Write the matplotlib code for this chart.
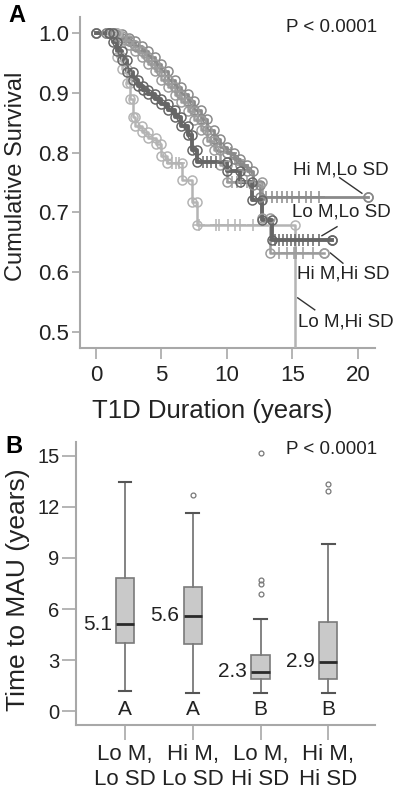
import matplotlib.pyplot as plt
import numpy as np

plt.rcParams['font.family'] = ['Liberation Sans', 'DejaVu Sans']

# ---- panel A: Kaplan-Meier curves ----
hilo_t = [0, 0.8, 1.5, 2.0, 2.5, 3.0, 3.5, 4.0, 4.5, 5.0, 5.5, 6.0, 6.5, 7.0, 7.5,
          8.0, 8.5, 9.0, 9.5, 10.0, 10.5, 11.0, 11.5, 12.0, 12.5, 20.8]
hilo_s = [1.0, 1.0, 0.998, 0.992, 0.986, 0.978, 0.97, 0.96, 0.948, 0.936, 0.922,
          0.91, 0.898, 0.886, 0.872, 0.856, 0.838, 0.822, 0.81, 0.80, 0.79, 0.78,
          0.77, 0.745, 0.726, 0.726]
hilo_cens = [10.3, 10.6, 11.2, 13.0, 13.4, 13.8, 14.2, 14.6, 15.0, 15.5, 16.0, 16.4, 17.0]

lolo_t = [0, 1.0, 1.3, 1.6, 2.0, 2.4, 2.8, 3.2, 3.6, 4.0, 4.5, 5.0, 5.5, 6.0, 6.5,
          7.0, 7.3, 7.7, 10.0, 11.0, 11.9, 12.7, 13.4, 18.0]
lolo_s = [1.0, 1.0, 0.985, 0.97, 0.955, 0.935, 0.922, 0.912, 0.905, 0.898, 0.89,
          0.882, 0.872, 0.86, 0.845, 0.83, 0.805, 0.785, 0.77, 0.75, 0.72, 0.687,
          0.654, 0.654]
lolo_cens = [8.2, 8.5, 8.8, 9.2, 13.7, 14.0, 14.3, 14.6, 14.9, 15.2, 15.5, 15.8, 16.2, 16.6, 17.0]

hihi_t = [0, 1.0, 1.5, 2.0, 2.5, 3.0, 3.5, 4.0, 4.5, 5.0, 5.5, 6.0, 6.5, 7.0, 7.5,
          8.0, 8.5, 9.0, 9.5, 10.0, 12.7, 13.3, 17.4]
hihi_s = [1.0, 1.0, 0.995, 0.988, 0.98, 0.97, 0.96, 0.948, 0.936, 0.922, 0.91,
          0.897, 0.884, 0.87, 0.855, 0.838, 0.82, 0.805, 0.78, 0.75, 0.69, 0.632, 0.632]
hihi_cens = [10.4, 10.8, 11.1, 11.5, 14.0, 14.6, 15.1, 15.3, 15.8, 16.6]

lohi_t = [0, 1.2, 1.6, 2.0, 2.4, 2.6, 2.8, 3.0, 3.5, 4.0, 4.6, 5.0, 5.4, 6.6, 7.3,
          7.7, 15.2]
lohi_s = [1.0, 1.0, 0.96, 0.94, 0.916, 0.89, 0.86, 0.845, 0.835, 0.825, 0.815,
          0.795, 0.783, 0.754, 0.718, 0.679, 0.30]
lohi_cens = [5.8, 6.1, 6.3, 7.9, 9.2, 9.4, 10.1, 10.6, 11.0, 12.0]

km_names = ['Hi M,Lo SD', 'Lo M,Lo SD', 'Hi M,Hi SD', 'Lo M,Hi SD']

# ---- panel B: box plots of time to MAU ----
box_labels = ['Lo M,\nLo SD', 'Hi M,\nLo SD', 'Lo M,\nHi SD', 'Hi M,\nHi SD']
box_med = [5.1, 5.6, 2.3, 2.9]
box_q1 = [4.0, 3.95, 1.88, 1.88]
box_q3 = [7.8, 7.3, 3.3, 5.25]
box_lo = [1.18, 1.05, 1.05, 1.05]
box_hi = [13.45, 11.65, 5.4, 9.8]
box_fliers = [[], [12.7], [15.2, 7.7, 7.5, 6.9], [13.35, 12.95]]
box_letters = ['A', 'A', 'B', 'B']

spine_c = '#a8a8a8'
fig = plt.figure(figsize=(4.0, 7.99), dpi=100)

# ================= A =================
ax = fig.add_axes([0.2, 0.5645, 0.7375, 0.4142])
curves = [
    (hilo_t, hilo_s, hilo_cens, '#8a8a8a', 2.0),
    (hihi_t, hihi_s, hihi_cens, '#9c9c9c', 1.8),
    (lohi_t, lohi_s, lohi_cens, '#b4b4b4', 1.8),
    (lolo_t, lolo_s, lolo_cens, '#666666', 2.8),
]
for t, s, cens, col, lw in curves:
    t = np.array(t)
    s = np.array(s)
    ax.step(t, s, where='post', color=col, lw=lw, zorder=3)
    ax.plot(t, s, 'o', mfc='none', mec=col, ms=6.5, mew=1.1, zorder=4)
    ax.plot(t[1:], s[:-1], 'o', mfc='none', mec=col, ms=6.5, mew=1.1, zorder=4)
    cs = s[np.searchsorted(t, cens, side='right') - 1]
    ax.plot(cens, cs, '+', color=col, ms=8, mew=1.1, zorder=4)

ax.set_xlim(-1.22, 21.3)
ax.set_ylim(0.4732, 1.0268)
ax.set_xticks([0, 5, 10, 15, 20])
ax.set_yticks([0.5, 0.6, 0.7, 0.8, 0.9, 1.0])
ax.set_yticklabels(['0.5', '0.6', '0.7', '0.8', '0.9', '1.0'])
for sp in ['top', 'right']:
    ax.spines[sp].set_visible(False)
for sp in ['left', 'bottom']:
    ax.spines[sp].set_color(spine_c)
    ax.spines[sp].set_linewidth(1.5)
ax.tick_params(axis='y', length=6, width=1.2, color=spine_c, labelsize=16, pad=2,
               labelcolor='#222222')
ax.tick_params(axis='x', length=8, width=1.2, color=spine_c, labelsize=16, pad=4,
               labelcolor='#222222')
ax.set_ylabel('Cumulative Survival', fontsize=17, color='#222222')
ax.yaxis.set_label_coords(-0.178, 0.52)
ax.set_xlabel('T1D Duration (years)', fontsize=18.5, color='#222222')
ax.xaxis.set_label_coords(0.45, -0.155)

lab_pos = [(18.7, 0.771), (18.7, 0.700), (18.9, 0.597), (19.1, 0.517)]
lab_line = [((18.6, 0.758), (20.3, 0.732)), ((18.4, 0.676), (17.25, 0.661)),
            ((17.9, 0.632), (18.85, 0.615)), ((15.4, 0.557), (16.7, 0.537))]
for name, (x, y), ((x0, y0), (x1, y1)) in zip(km_names, lab_pos, lab_line):
    ax.text(x, y, name, fontsize=13.5, ha='center', va='center', color='#222222',
            clip_on=False)
    ax.plot([x0, x1], [y0, y1], color='#333333', lw=1.0, clip_on=False)

fig.text(0.83, 0.966, 'P < 0.0001', fontsize=13.5, ha='center', va='center', color='#222222')
fig.text(0.042, 0.981, 'A', fontsize=17, fontweight='bold', ha='center', va='center')

# ================= B =================
bx = fig.add_axes([0.19, 0.0926, 0.7475, 0.3542])
pos = np.arange(1, 5)
stats = []
for i in range(4):
    stats.append(dict(med=box_med[i], q1=box_q1[i], q3=box_q3[i],
                      whislo=box_lo[i], whishi=box_hi[i], fliers=box_fliers[i]))
bx.bxp(stats, positions=pos, widths=0.27, patch_artist=True, capwidths=0.19,
       boxprops=dict(facecolor='#c9c9c9', edgecolor='#7a7a7a', lw=1.2),
       medianprops=dict(color='#2a2a2a', lw=2.0),
       whiskerprops=dict(color='#7a7a7a', lw=1.3),
       capprops=dict(color='#555555', lw=1.5),
       flierprops=dict(marker='o', mfc='none', mec='#777777', ms=3.5, mew=0.9))

for p, m, letter in zip(pos, box_med, box_letters):
    bx.annotate(f'{m:.1f}', (p - 0.135, m), xytext=(-3, 0), textcoords='offset points',
                ha='right', va='center', fontsize=15, color='#222222')
    bx.text(p, 0.1, letter, ha='center', va='center', fontsize=15, color='#222222')

bx.set_xlim(0.276, 4.69)
bx.set_ylim(-0.82, 15.82)
bx.set_yticks([0, 3, 6, 9, 12, 15])
bx.set_xticks(pos)
bx.set_xticklabels(box_labels, fontsize=16, linespacing=1.2, color='#222222')
for sp in ['top', 'right']:
    bx.spines[sp].set_visible(False)
for sp in ['left', 'bottom']:
    bx.spines[sp].set_color(spine_c)
    bx.spines[sp].set_linewidth(1.5)
bx.tick_params(axis='y', length=10, width=1.2, color=spine_c, labelsize=14.5, pad=2,
               labelcolor='#222222')
bx.tick_params(axis='x', length=11, width=1.2, color=spine_c, pad=3)
bx.set_ylabel('Time to MAU (years)', fontsize=19, color='#222222')
bx.yaxis.set_label_coords(-0.155, 0.477)

fig.text(0.83, 0.437, 'P < 0.0001', fontsize=13.5, ha='center', va='center', color='#222222')
fig.text(0.036, 0.441, 'B', fontsize=17, fontweight='bold', ha='center', va='center')

fig.savefig('out.png', dpi=100)
